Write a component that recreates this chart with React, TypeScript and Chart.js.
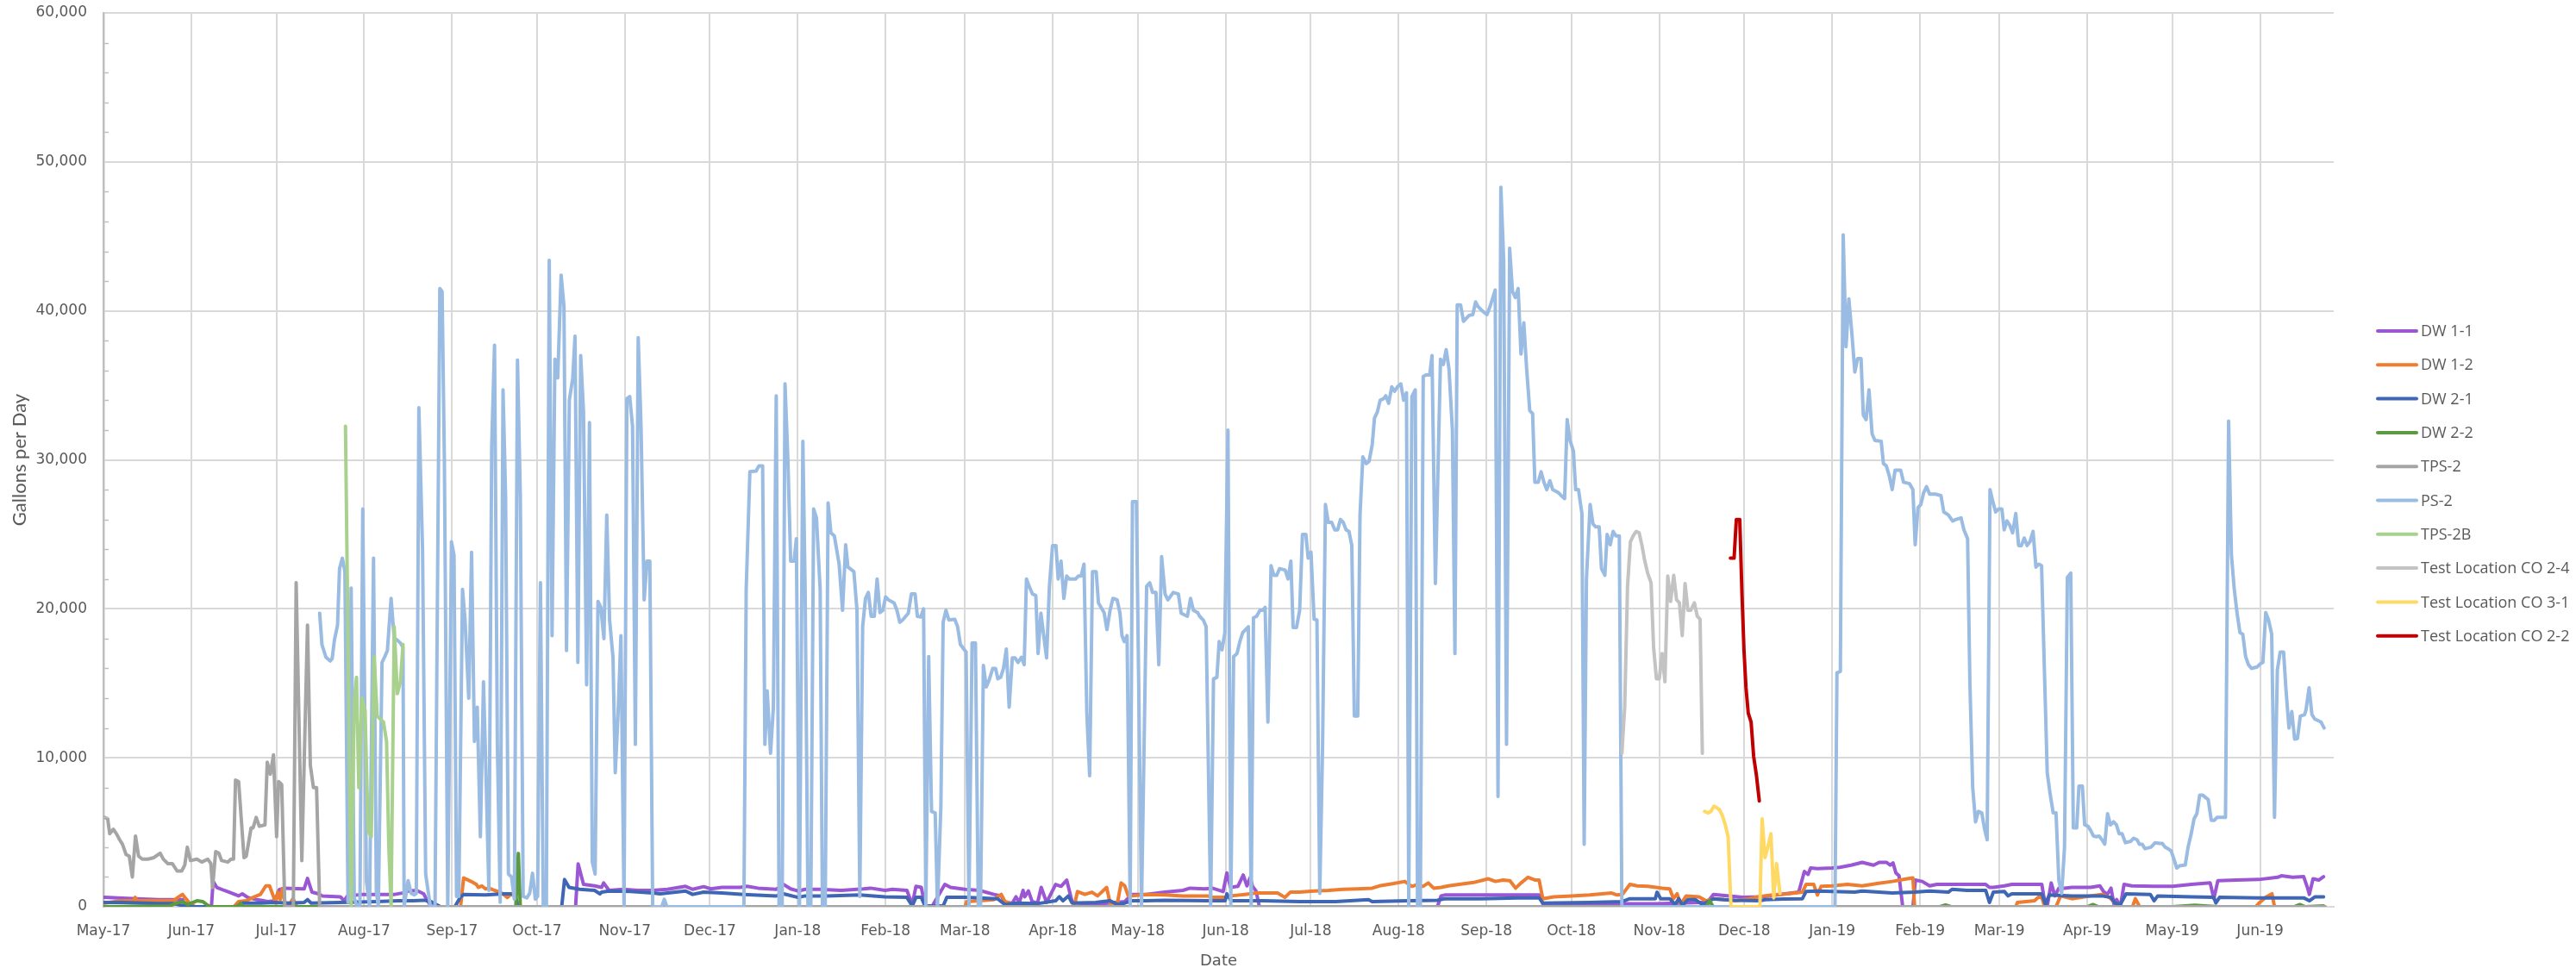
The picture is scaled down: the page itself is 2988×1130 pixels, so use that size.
import React, { useEffect, useRef } from 'react';
import { Chart, registerables } from 'chart.js';

Chart.register(...registerables);

// Day offsets are counted from 2017-05-01 (day 0).
const monthLabels = [
  'May-17', 'Jun-17', 'Jul-17', 'Aug-17', 'Sep-17', 'Oct-17', 'Nov-17', 'Dec-17',
  'Jan-18', 'Feb-18', 'Mar-18', 'Apr-18', 'May-18', 'Jun-18', 'Jul-18', 'Aug-18',
  'Sep-18', 'Oct-18', 'Nov-18', 'Dec-18', 'Jan-19', 'Feb-19', 'Mar-19', 'Apr-19',
  'May-19', 'Jun-19',
];
const yTicks = [0, 10000, 20000, 30000, 40000, 50000, 60000];

const seriesNames = [
  'DW 1-1', 'DW 1-2', 'DW 2-1', 'DW 2-2', 'TPS-2', 'PS-2', 'TPS-2B',
  'Test Location CO 2-4', 'Test Location CO 3-1', 'Test Location CO 2-2',
];
const seriesColors = [
  '#9b57d3', '#ed7d31', '#3f66b5', '#5b9a3f', '#a5a5a5', '#9abbe2', '#a9d18e',
  '#c3c3c3', '#ffd966', '#c00000',
];

type P = [number, number];

const dw11: P[] = [
  [0.3, 630], [6.7, 580], [11.8, 540], [19.5, 480], [24.7, 480], [27.9, 480], [29, 0], [38.1, 0],
  [38.7, 1700], [40, 1300], [42.6, 1100], [45.2, 920], [47.7, 730], [49, 870], [50.9, 630], [54.1, 480],
  [56.7, 400], [58, 350], [60.5, 400], [62, 1150], [63.7, 1250], [70.8, 1200], [72, 1900], [73.6, 980],
  [75.9, 870], [77.2, 730], [83.6, 670], [84.9, 400], [86.1, 730], [91.3, 830], [96.4, 830], [102.8, 830],
  [105.4, 920], [107.9, 1060], [110.5, 1100], [113, 870], [114.3, 400], [115.6, 60], [116.5, 0], [166.6, 0],
  [167.5, 2880], [169.4, 1500], [173.3, 1400], [175.8, 1300], [176.5, 1600], [178.4, 1100], [183.5, 1170],
  [188.6, 1100], [193.8, 1100], [199, 1170], [205.4, 1370], [207.9, 1170], [211.8, 1350], [214.3, 1200],
  [218.2, 1300], [224.6, 1300], [227.1, 1370], [231, 1250], [237.4, 1170], [240, 1500], [242.5, 1200],
  [245.1, 1060], [247.6, 1170], [252.7, 1170], [260.4, 1100], [268.1, 1200], [270.7, 1250], [275.8, 1100],
  [278.4, 1170], [283.5, 1100], [285.4, 150], [286.7, 1370], [288.6, 1300], [289.9, 60], [292.5, 60],
  [296.9, 1500], [298.9, 1300], [304, 1170], [309.1, 1100], [314.2, 830], [316.8, 730], [318.1, 290],
  [319.4, 250], [320.7, 250], [322, 670], [323.2, 290], [324.5, 1100], [325.1, 670], [326.4, 1060],
  [327.7, 350], [329.6, 250], [330.9, 1300], [332.8, 290], [336, 1500], [337.9, 1370], [339.9, 1790],
  [341.8, 350], [343.7, 250], [347.6, 210], [352.7, 210], [360.4, 350], [362.9, 830], [368, 830],
  [374.5, 980], [380.9, 1100], [383.4, 1250], [388.7, 1200], [391.3, 1250], [395.1, 1020], [396.4, 2270],
  [397.7, 1300], [400.3, 1370], [402.2, 2130], [403.5, 1400], [404.7, 1980], [405.4, 1400], [406.7, 1060],
  [407.9, 0], [470.7, 0], [472, 730], [473.3, 790], [498.9, 790], [506.6, 790], [507.9, 200], [548, 200],
  [566, 300], [568.1, 830], [578.4, 630], [585, 670], [591.6, 830], [598.2, 980], [600.2, 2370],
  [601.5, 2170], [602.4, 2600], [604.8, 2560], [610.1, 2600], [612.7, 2650], [616.7, 2790], [620.6, 2980],
  [624.6, 2790], [626.6, 2980], [629.2, 2980], [630.5, 2790], [631.5, 2940], [632.5, 2270], [633.6, 2080],
  [634.9, 0], [638.5, 0], [639.4, 1790], [641.8, 1700], [644.4, 1400], [647, 1500], [657.6, 1500],
  [664.2, 1500], [665.5, 1300], [666.9, 1300], [670.8, 1400], [673.4, 1500], [684, 1500], [684.7, 670],
  [686, 150], [687.3, 1600], [688.6, 730], [690, 1250], [691.9, 1250], [694.6, 1300], [697.2, 1300],
  [701.2, 1300], [704.5, 1400], [705.8, 1020], [707.1, 830], [708.4, 1250], [709.4, 210], [710.4, 480],
  [711.7, 0], [713, 1500], [715.7, 1400], [723.6, 1370], [730.2, 1370], [736.8, 1500], [743.4, 1600],
  [744.7, 540], [746.1, 1750], [752.7, 1790], [760.6, 1830], [767.2, 1980], [768.5, 2080], [772.5, 1980],
  [776.4, 2020], [777.7, 1300], [778.4, 830], [779.7, 1880], [781.7, 1790], [783.4, 2020],
];

const dw12: P[] = [
  [0.3, 250], [4.2, 350], [6.7, 400], [10.6, 400], [11.2, 630], [11.8, 400], [19.5, 400], [24.7, 400],
  [26.6, 670], [27.9, 830], [29.1, 540], [30.4, 250], [32.3, 0], [46, 0], [47.7, 350], [50.3, 400],
  [52.8, 630], [55.4, 830], [57.3, 1400], [58.6, 1400], [59.9, 730], [60.8, 250], [61.5, 980], [62.4, 480],
  [63.1, 1210], [64.1, 250], [65.6, 150], [66.9, 540], [68.2, 0], [126, 0], [127.1, 1940], [129.7, 1700],
  [131.6, 1500], [132.3, 1300], [133.5, 1400], [134.8, 1200], [136.1, 1250], [138, 1100], [140, 980],
  [141.2, 830], [142.5, 630], [143.8, 830], [145.1, 730], [146.3, 150], [147, 0], [304, 0], [304.6, 350],
  [309.1, 400], [314.2, 480], [316.8, 830], [318.1, 350], [324.5, 0], [342.5, 0], [343.7, 1020],
  [346.3, 830], [348.8, 980], [350.8, 730], [354, 1300], [355.2, 250], [357.8, 250], [359.1, 1600],
  [360.4, 1400], [361.6, 730], [362.9, 730], [368, 830], [374.5, 790], [380.9, 730], [389.6, 730],
  [391.3, 630], [395.8, 630], [397.7, 730], [402.8, 830], [406.7, 920], [414.3, 920], [416.9, 630],
  [418.8, 980], [422, 980], [427.2, 1060], [432.3, 1100], [437.4, 1170], [442.5, 1200], [447.7, 1250],
  [450.2, 1400], [455.3, 1560], [459.2, 1700], [461.7, 1370], [463.7, 1500], [465.6, 1370], [467.5, 1600],
  [469.4, 1250], [472, 1300], [474.6, 1400], [478.4, 1500], [483.5, 1630], [488.7, 1880], [491.2, 1700],
  [493.8, 1790], [496.3, 1750], [498.3, 1250], [500.2, 1600], [502.7, 1980], [505.3, 1790], [506.6, 1790],
  [507.9, 540], [511.7, 670], [518.1, 730], [524.5, 790], [532.2, 920], [534.1, 790], [536, 830],
  [538.6, 1500], [541.2, 1400], [545, 1370], [550.1, 1250], [552.7, 1200], [554, 540], [555.3, 870],
  [556.5, 150], [558.5, 730], [563, 670], [565.5, 400], [568.1, 540], [571.9, 480], [575.8, 400],
  [580.9, 540], [583.7, 670], [589, 790], [594.2, 870], [599.5, 980], [600.8, 1500], [603.5, 1500],
  [604.8, 790], [606.1, 1370], [610.1, 1400], [615.4, 1500], [620.6, 1400], [625.9, 1560], [631.2, 1700],
  [636.5, 1880], [638.5, 1940], [639.1, 0], [674.8, 0], [675.4, 290], [681.4, 400], [682.7, 630],
  [684, 630], [685, 0], [689, 0], [690.6, 730], [694.6, 540], [701.2, 730], [705.1, 830], [707.8, 630],
  [710.4, 150], [711.5, 0], [716, 0], [717, 540], [718.5, 0], [759.5, 0], [760.6, 250], [763.2, 670],
  [765.2, 870], [766.1, 0], [783.4, 0],
];

const dw21: P[] = [
  [0.3, 290], [6.7, 290], [19.5, 210], [24.7, 210], [28.5, 60], [30, 0], [47, 0], [49, 250], [55.4, 250],
  [60.5, 290], [65.6, 250], [70.8, 290], [72, 480], [73.3, 250], [83.6, 290], [96.4, 350], [104.1, 400],
  [109.2, 400], [113, 440], [115.6, 350], [117.5, 150], [119, 0], [124, 0], [125.9, 630], [127.1, 830],
  [134.8, 790], [141.2, 870], [145.1, 870], [146.3, 0], [161.7, 0], [162.7, 1830], [164.3, 1300],
  [168.1, 1170], [173.3, 1100], [175.2, 870], [175.8, 980], [178.4, 1060], [186.1, 1020], [193.8, 920],
  [196.4, 870], [205.4, 1060], [207.9, 830], [211.8, 980], [218.2, 920], [225.9, 830], [237.4, 730],
  [240, 870], [245.1, 630], [247.6, 730], [255.3, 730], [266.8, 790], [275.8, 670], [283.5, 630],
  [285.4, 60], [286.7, 630], [288.6, 630], [289.9, 60], [296.3, 60], [297.6, 630], [304, 630],
  [315.5, 540], [318.1, 150], [322, 250], [329.6, 210], [336, 400], [337.3, 670], [338.6, 400],
  [340.5, 730], [341.8, 250], [350.1, 290], [355.2, 400], [357.8, 150], [360.4, 250], [362.9, 400],
  [368, 400], [374.5, 440], [389.6, 400], [395.8, 400], [396.4, 870], [397.9, 400], [409.2, 400],
  [422, 350], [434.8, 350], [446.4, 480], [447.7, 350], [460.5, 400], [470.7, 440], [473.3, 540],
  [486.1, 540], [498.9, 600], [506.6, 600], [507.9, 250], [524.5, 290], [536, 350], [538.6, 540],
  [547.6, 540], [548.2, 980], [549.5, 540], [552.7, 540], [554.6, 150], [555.9, 540], [557.2, 100],
  [559.1, 480], [561.7, 480], [564.2, 150], [568.1, 540], [571.9, 480], [575.8, 440], [584.5, 400],
  [586.3, 480], [592.9, 520], [599.5, 540], [600.8, 1020], [604.8, 1060], [610.1, 1020], [618, 980],
  [620.6, 1060], [631.2, 920], [639.1, 980], [644.4, 1060], [651, 980], [652.3, 1170], [657.6, 1100],
  [664.2, 1100], [665.5, 290], [666.9, 980], [670.8, 1020], [672.1, 730], [673.4, 870], [684, 870],
  [685.3, 150], [686.6, 790], [694.6, 730], [705.1, 730], [708.4, 630], [709.8, 250], [711.7, 150],
  [713.7, 870], [722.3, 830], [723.6, 400], [724.9, 730], [736.8, 670], [744.7, 630], [745.4, 250],
  [746.7, 630], [760.6, 600], [776.4, 600], [778.4, 400], [780.4, 670], [783.4, 670],
];

const dw22: P[] = [
  [0, 0], [23.4, 60], [25.9, 250], [27.9, 350], [29.8, 150], [31.1, 250], [33, 400], [35, 350],
  [36.8, 100], [38.1, 0], [47.5, 0], [48.4, 250], [49.2, 0], [145.5, 0], [146.4, 3580], [147.1, 0],
  [565.5, 0], [566.8, 400], [568, 0], [648, 0], [650, 120], [652, 0], [700, 0], [702, 150], [704, 0],
  [730, 0], [738, 100], [746, 0], [773, 0], [775, 150], [777, 0], [783.4, 60],
];

const tps2: P[] = [
  [0.4, 6000], [1.5, 5900], [2.2, 4900], [3.5, 5200], [4.6, 4900], [5.7, 4500], [6.7, 4200], [8, 3500],
  [9.1, 3400], [10.2, 2000], [11.3, 4750], [12.4, 3400], [13.7, 3200], [15.7, 3200], [17.8, 3300],
  [20, 3600], [21.1, 3200], [22.7, 2900], [24.3, 2900], [26, 2400], [27.6, 2400], [28.7, 2800],
  [29.6, 4000], [30.7, 3100], [33, 3200], [34.7, 3000], [36.8, 3200], [37.9, 2900], [38.5, 1300],
  [39.6, 3700], [40.7, 3600], [41.7, 3100], [43.9, 3000], [45, 3200], [45.9, 3200], [46.6, 8500],
  [47.7, 8400], [49.6, 3300], [50.4, 3400], [52.1, 5300], [52.8, 5300], [53.9, 6000], [55, 5400],
  [57, 5500], [57.8, 9700], [58.9, 8900], [60, 10200], [61.1, 4700], [61.8, 8400], [62.9, 8200],
  [64, 0], [67, 0], [68, 21750], [70, 3100], [72, 18900], [73, 9500], [74.1, 8000], [75.2, 8000],
  [76.3, 0], [784, 0],
];

const ps2: P[] = [
  [76.3, 19700], [77.1, 17600], [78.5, 16750], [80, 16500], [80.7, 16650], [81.5, 17900], [82.6, 18900],
  [83.3, 22700], [84.3, 23400], [85.2, 22500], [86.3, 300], [87.4, 21400], [88.5, 600], [89.5, 0],
  [90.5, 0], [91.5, 26700], [92.8, 1700], [93.9, 0], [95.3, 23400], [96.3, 1000], [97, 0], [98.3, 16400],
  [99.3, 16800], [100.2, 17200], [101.5, 20700], [102.6, 18000], [103.7, 17900], [104.8, 17700],
  [105.7, 17400], [106.1, 0], [107.5, 1750], [108.6, 900], [109.7, 800], [110.4, 900], [111.3, 33500],
  [112.6, 24000], [113.7, 2200], [114.6, 1000], [115.4, 0], [117, 0], [118.7, 41500], [119.5, 41300],
  [120.3, 30000], [121.5, 0], [122.8, 24500], [123.7, 23600], [124.6, 700], [125.4, 700], [126.7, 21300],
  [127.6, 19250], [128.9, 14000], [129.9, 23800], [130.9, 11100], [131.9, 13400], [133, 4700],
  [134.1, 15100], [135, 8800], [136, 1100], [137, 30900], [138, 37700], [139, 10900], [140, 300],
  [141, 34700], [141.9, 27600], [142.9, 2200], [144, 2000], [145, 500], [146.1, 36700], [147.1, 27600],
  [148.1, 700], [149.4, 600], [150.4, 900], [151.4, 2250], [152.4, 500], [153.2, 700], [154.2, 21750],
  [155.2, 0], [156.3, 0], [157.3, 43400], [158.3, 18200], [159.3, 36750], [160.3, 35500], [161.5, 42400],
  [162.5, 40300], [163.4, 17200], [164.4, 34000], [165.6, 35500], [166.4, 38300], [167.4, 16400],
  [168.4, 37000], [169.4, 33200], [170.5, 14900], [171.5, 32500], [172.5, 3000], [173.5, 2200],
  [174.5, 20500], [175.5, 20100], [176.6, 18000], [177.6, 26300], [178.6, 19250], [179.8, 16750],
  [180.6, 9000], [181.6, 13000], [182.6, 18200], [183.7, 0], [184.7, 34100], [185.7, 34250],
  [186.7, 32250], [187.7, 10900], [188.7, 38200], [189.7, 32200], [190.8, 20600], [191.8, 23200],
  [192.8, 23200], [193.8, 0], [197, 0], [197.9, 500], [198.8, 0], [226, 0], [226.8, 21300], [228.1, 29200],
  [230.3, 29250], [231.3, 29600], [232.6, 29600], [233.4, 10900], [234.2, 14500], [235.4, 10300],
  [236.4, 13400], [237.4, 34300], [238.4, 0], [239.5, 0], [240.5, 35100], [241.5, 30100], [242.5, 23200],
  [243.7, 23200], [244.5, 24700], [245.6, 0], [246.8, 31250], [247.6, 21300], [248.6, 0], [249.6, 0],
  [250.6, 26700], [251.6, 26100], [252.9, 21300], [253.7, 0], [254.7, 0], [255.7, 27100], [256.7, 25100],
  [257.9, 24900], [259.6, 23000], [260.8, 19900], [261.9, 24300], [262.7, 22800], [264.8, 22500],
  [265.9, 19900], [266.9, 700], [267.9, 18800], [268.9, 20700], [269.9, 21100], [270.9, 19500],
  [272, 19500], [273, 22000], [274, 19750], [275, 19900], [276, 20800], [277, 20600], [279, 20400],
  [280, 19900], [281, 19100], [282, 19250], [284, 19700], [285.1, 21000], [286.4, 21000], [287.2, 19500],
  [288.4, 19450], [289.4, 20000], [290.2, 0], [291.2, 16800], [292.2, 6400], [293.5, 6300], [294.3, 0],
  [295.5, 6750], [296.3, 19100], [297.3, 19900], [298.3, 19250], [300.4, 19300], [301.4, 18800],
  [302.4, 17600], [304.4, 17100], [305.4, 0], [306.5, 17700], [307.7, 17700], [308.7, 0], [309.5, 0],
  [310.5, 16200], [311.5, 14750], [312.5, 15200], [313.8, 16000], [314.8, 16000], [315.6, 15300],
  [316.6, 15400], [317.6, 16000], [318.6, 17300], [319.6, 13400], [320.7, 16700], [321.7, 16700],
  [322.7, 16400], [323.9, 16750], [324.9, 16250], [325.7, 22000], [326.7, 21500], [327.8, 21000],
  [329, 20900], [329.8, 17000], [330.8, 19700], [331.8, 18200], [332.8, 16700], [333.8, 21500],
  [334.9, 24250], [336.1, 24250], [336.9, 22000], [337.9, 23200], [338.9, 20700], [339.9, 22200],
  [340.9, 22000], [343, 22000], [344, 22200], [345, 22200], [346, 23000], [347, 13000], [348, 8800],
  [349, 22500], [350.3, 22500], [351.1, 20400], [353.1, 19750], [354.1, 18600], [355.2, 19900],
  [356.2, 20700], [357.7, 20600], [358.7, 19700], [359.4, 18200], [360.2, 17800], [361.2, 18200],
  [362.3, 0], [363.1, 27200], [364.5, 27200], [366.3, 0], [368.1, 21500], [369.2, 21750], [370.2, 21100],
  [371.4, 21100], [372.4, 16250], [373.4, 23500], [374.6, 21000], [375.6, 20600], [377.5, 21100],
  [379.3, 21000], [380.3, 19700], [382.5, 19500], [383.6, 20700], [384.6, 19900], [386.1, 19750],
  [386.8, 19500], [388.1, 19250], [389.1, 18800], [390.7, 0], [391.7, 15300], [392.9, 15400],
  [393.7, 17800], [394.7, 17250], [395.7, 18400], [396.8, 32000], [397.8, 0], [398.8, 16800], [400, 17000],
  [401, 17800], [402, 18400], [403, 18600], [404, 18800], [405, 0], [405.8, 19400], [406.9, 19500],
  [408.1, 19900], [409.1, 19900], [409.9, 20100], [410.9, 12400], [412, 22900], [413, 22250],
  [414, 22250], [415, 22700], [417, 22600], [418, 22000], [419, 23200], [419.8, 18750], [421, 18750],
  [422.1, 19900], [423.1, 25000], [424.3, 25000], [425.1, 23400], [426.1, 23800], [427.2, 19300],
  [428.2, 19250], [429.2, 900], [430.2, 10900], [431.2, 27000], [432.2, 25800], [433.4, 25800],
  [434.5, 25300], [435.5, 25300], [436.5, 26000], [437.5, 25800], [438.5, 25300], [439.5, 25200],
  [440.5, 24250], [441.4, 12800], [442.6, 12800], [443.4, 26300], [444.4, 30200], [445.6, 29750],
  [446.6, 29900], [447.7, 31000], [448.5, 32800], [449.5, 33200], [450.5, 34000], [451.7, 34100],
  [452.5, 34300], [453.5, 33800], [454.6, 34900], [455.6, 34600], [456.6, 34900], [457.8, 35100],
  [458.8, 34000], [459.8, 34500], [460.6, 0], [461.7, 34250], [462.9, 34700], [463.7, 0], [464.7, 0],
  [465.7, 35600], [466.7, 35700], [468, 35700], [468.8, 37000], [470, 21700], [471.8, 36750],
  [472.8, 36400], [473.8, 37400], [474.8, 36100], [476, 32000], [476.9, 17000], [477.7, 40400],
  [478.9, 40400], [479.9, 39300], [481.9, 39700], [483.2, 39750], [484.2, 40600], [485, 40300],
  [486, 40100], [487.2, 39900], [488.2, 39750], [489.3, 40300], [491.1, 41400], [492.1, 7400],
  [493.1, 48300], [494.1, 43400], [495.1, 10900], [496.2, 44200], [497.2, 41300], [498.2, 40900],
  [499.2, 41500], [500.2, 37100], [501.2, 39200], [502.2, 36100], [503.3, 33300], [504.3, 33100],
  [505.1, 28500], [506.3, 28500], [507.3, 29200], [508.3, 28500], [509.3, 28000], [510.4, 28600],
  [511.4, 28000], [513.4, 27800], [514.4, 27600], [515.6, 27400], [516.5, 32700], [517.5, 31300],
  [518.7, 30600], [519.5, 28000], [520.5, 28000], [521.7, 26400], [522.5, 4200], [523.3, 22000],
  [524.6, 27000], [525.6, 25700], [526.6, 25500], [527.8, 25500], [528.6, 22700], [529.8, 22250],
  [530.6, 25000], [531.7, 24300], [532.7, 25200], [533.7, 24900], [534.9, 24900], [535.8, 0], [611, 0],
  [611.7, 15700], [612.9, 15800], [613.9, 45100], [614.9, 37600], [615.9, 40800], [617, 38400],
  [618, 35900], [619, 36800], [620.2, 36800], [621, 33000], [622, 32700], [623, 34700], [624.1, 31750],
  [625.1, 31300], [627.3, 31250], [628.1, 29750], [629.1, 29600], [630.2, 28900], [631.2, 28000],
  [632.2, 29300], [634.2, 29300], [635.2, 28500], [637.3, 28400], [638.5, 28000], [639.3, 24300],
  [640.3, 26800], [641.3, 27000], [642.3, 27800], [643.3, 28200], [644.4, 27700], [646.4, 27700],
  [648.4, 27600], [649.4, 26500], [651, 26300], [652.5, 25900], [653.7, 26000], [655.5, 26100],
  [656.5, 25300], [657.8, 24700], [658.6, 15100], [659.6, 8000], [660.6, 5700], [661.6, 6400],
  [662.8, 6300], [663.8, 5200], [664.7, 4500], [665.7, 28000], [666.7, 27200], [667.7, 26500],
  [668.7, 26700], [669.9, 26700], [670.7, 25300], [671.7, 25900], [672.7, 25600], [673.7, 25100],
  [674.8, 26400], [675.8, 24250], [676.8, 24250], [677.8, 24750], [678.8, 24250], [679.8, 24500],
  [680.9, 25200], [681.9, 22800], [682.9, 23000], [683.9, 22900], [684.9, 15900], [685.9, 9000],
  [686.9, 7600], [688, 6300], [689, 6300], [690, 1750], [691, 900], [692, 4000], [693, 22100],
  [694.2, 22400], [695.1, 5300], [696.3, 5300], [697.1, 8100], [698.3, 8100], [699.1, 5500],
  [700.3, 5400], [701.3, 5100], [702.2, 4750], [703.2, 4700], [704.2, 4750], [705.2, 4500],
  [706.2, 4200], [707.2, 6250], [708.2, 5500], [709.3, 5700], [710.3, 5500], [711.3, 4900],
  [712.3, 4900], [713.5, 4300], [715.4, 4400], [716.4, 4600], [717.6, 4500], [718.4, 4200],
  [719.4, 4200], [720.4, 3900], [722.5, 4000], [724, 4300], [725.5, 4250], [726.5, 4250], [727.5, 4000],
  [728.5, 3900], [729.6, 3750], [730.6, 3200], [731.6, 2600], [732.6, 2750], [734.6, 2800],
  [735.6, 4000], [736.7, 4900], [737.7, 5900], [738.7, 6250], [739.7, 7500], [740.7, 7500],
  [742.7, 7200], [743.8, 5800], [744.8, 5800], [745.8, 6000], [748.8, 6000], [749.9, 32600],
  [750.9, 23600], [751.9, 21300], [752.9, 19700], [753.9, 18400], [754.9, 18300], [755.9, 16800],
  [756.9, 16250], [758, 16000], [760, 16100], [761, 16300], [762, 16400], [763, 19750], [764, 19250],
  [765.1, 18300], [766.1, 6000], [767.1, 15900], [768.1, 17100], [769.3, 17100], [770.1, 14700],
  [771.2, 12000], [772.2, 13100], [773.2, 11250], [774.2, 11300], [775.2, 12800], [776.7, 12900],
  [777.2, 13200], [778.3, 14700], [779.3, 12900], [780.3, 12600], [781.5, 12500], [782.5, 12400],
  [783.6, 12000],
];

const tps2b: P[] = [
  [85.4, 32250], [87.4, 0], [88.5, 13800], [89.3, 15400], [90.1, 8000], [91.2, 14000], [92.3, 13200],
  [93.4, 5100], [94.5, 4700], [95.5, 16800], [96.6, 12800], [97.7, 12600], [98.8, 12400], [99.9, 11100],
  [100.7, 4000], [101.5, 0], [102.6, 18800], [103.7, 14300], [104.8, 15100], [105.7, 17600],
];

const co24: P[] = [
  [535.8, 10300], [536.8, 13400], [537.8, 21500], [538.8, 24500], [539.8, 24900], [540.9, 25200],
  [541.9, 25100], [542.9, 24250], [543.9, 23200], [544.9, 22400], [546.1, 21750], [547, 17400],
  [548, 15300], [549, 15300], [550, 17000], [551, 15100], [552, 22200], [553, 20500], [554.1, 22250],
  [555.1, 20600], [556.1, 20400], [557.1, 18200], [558.1, 21700], [559.1, 19900], [560.1, 19900],
  [561.4, 20400], [562.4, 19500], [563.4, 19300], [564.2, 10300],
];

const co31: P[] = [
  [565, 6400], [566.2, 6300], [567.2, 6400], [568.3, 6750], [569.3, 6650], [570.3, 6500], [571.3, 6100],
  [572.3, 5500], [573.3, 4700], [574.3, 0], [584.5, 0], [585.3, 5900], [586.3, 3300], [587.3, 4000],
  [588.4, 4900], [589.4, 600], [590.4, 2900], [591.6, 900],
];

const co22: P[] = [
  [574.1, 23400], [575.4, 23400], [576.2, 26000], [577.4, 26000], [578.2, 20900], [578.9, 17200],
  [579.6, 14700], [580.4, 13000], [581.4, 12400], [582.3, 10100], [583.3, 8800], [584.3, 7100],
];

const seriesData: P[][] = [dw11, dw12, dw21, dw22, tps2, ps2, tps2b, co24, co31, co22];

const DAY_MS = 86400000;
const monthStarts = monthLabels.map((_, i) => (Date.UTC(2017, 4 + i, 1) - Date.UTC(2017, 4, 1)) / DAY_MS);
const X_MAX = 787;

const TEXT = '#595959';
const GRID = '#d9d9d9';

const extrasPlugin = {
  id: 'extras',
  afterDraw(chart: any) {
    const { ctx, chartArea } = chart;
    const y = chart.scales.y;
    ctx.save();
    // minor ticks on the value axis
    ctx.strokeStyle = '#bfbfbf';
    ctx.lineWidth = 1.5;
    for (let v = 2000; v < 60000; v += 2000) {
      if (v % 10000 === 0) continue;
      const py = Math.round(y.getPixelForValue(v)) + 0.5;
      ctx.beginPath();
      ctx.moveTo(chartArea.left, py);
      ctx.lineTo(chartArea.left + 6, py);
      ctx.stroke();
    }
    // legend
    const lx = chartArea.right + 50;
    const ly0 = 384;
    const step = 39.3;
    ctx.font = '18px "Open Sans"';
    ctx.textBaseline = 'middle';
    ctx.textAlign = 'left';
    chart.data.datasets.forEach((ds: any, i: number) => {
      const ly = ly0 + i * step;
      ctx.strokeStyle = ds.borderColor;
      ctx.lineWidth = 4;
      ctx.lineCap = 'round';
      ctx.beginPath();
      ctx.moveTo(lx + 1, ly);
      ctx.lineTo(lx + 46, ly);
      ctx.stroke();
      ctx.fillStyle = TEXT;
      ctx.fillText(ds.label, lx + 51, ly + 1);
    });
    ctx.restore();
  },
};

export default function App() {
  const ref = useRef<HTMLCanvasElement | null>(null);

  useEffect(() => {
    document.body.style.margin = '0';
    const canvas = ref.current;
    if (!canvas) return;
    const n = seriesNames.length;
    const chart = new Chart(canvas, {
      type: 'line',
      data: {
        datasets: seriesNames.map((name, i) => ({
          label: name,
          data: seriesData[i].map(([x, y]) => ({ x, y })),
          borderColor: seriesColors[i],
          backgroundColor: seriesColors[i],
          borderWidth: 4,
          pointRadius: 0,
          pointHoverRadius: 0,
          tension: 0,
          fill: false,
          borderJoinStyle: 'round',
          borderCapStyle: 'round',
          order: n - i,
        })),
      },
      options: {
        responsive: false,
        animation: false,
        devicePixelRatio: 1,
        events: [],
        layout: { padding: { top: 15, right: 2988 - 2707, left: 0, bottom: 0 } },
        plugins: {
          legend: { display: false },
          tooltip: { enabled: false },
        },
        scales: {
          x: {
            type: 'linear',
            min: 0,
            max: X_MAX,
            afterBuildTicks: (scale: any) => {
              scale.ticks = monthStarts.map((v) => ({ value: v }));
            },
            afterFit: (scale: any) => {
              scale.height = 78;
            },
            ticks: {
              autoSkip: false,
              maxRotation: 0,
              minRotation: 0,
              padding: 18,
              color: TEXT,
              font: { family: 'DejaVu Sans', size: 17 },
              callback: (_v: any, index: number) => monthLabels[index] ?? '',
            },
            grid: { color: GRID, lineWidth: 2, drawTicks: false },
            border: { display: true, color: GRID, width: 2 },
            title: {
              display: true,
              text: 'Date',
              color: TEXT,
              font: { family: 'DejaVu Sans', size: 18 },
              padding: { top: 4, bottom: 4 },
            },
          },
          y: {
            type: 'linear',
            min: 0,
            max: 60000,
            afterBuildTicks: (scale: any) => {
              scale.ticks = yTicks.map((v) => ({ value: v }));
            },
            afterFit: (scale: any) => {
              scale.width = 120;
            },
            ticks: {
              padding: 0,
              color: TEXT,
              font: { family: 'DejaVu Sans', size: 17 },
              callback: (v: any) => Number(v).toLocaleString('en-US'),
            },
            grid: {
              color: GRID,
              lineWidth: 2,
              drawTicks: true,
              tickLength: 19,
              tickColor: 'rgba(0,0,0,0)',
            },
            border: { display: true, color: '#bfbfbf', width: 2.5 },
            title: {
              display: true,
              text: 'Gallons per Day',
              color: TEXT,
              font: { family: 'Lato', size: 22 },
              padding: { top: 10, bottom: 10 },
            },
          },
        },
      },
      plugins: [extrasPlugin],
    } as any);
    return () => chart.destroy();
  }, []);

  return (
    <div style={{ width: 2988, height: 1130 }}>
      <canvas ref={ref} width={2988} height={1130} style={{ display: 'block' }} />
    </div>
  );
}
